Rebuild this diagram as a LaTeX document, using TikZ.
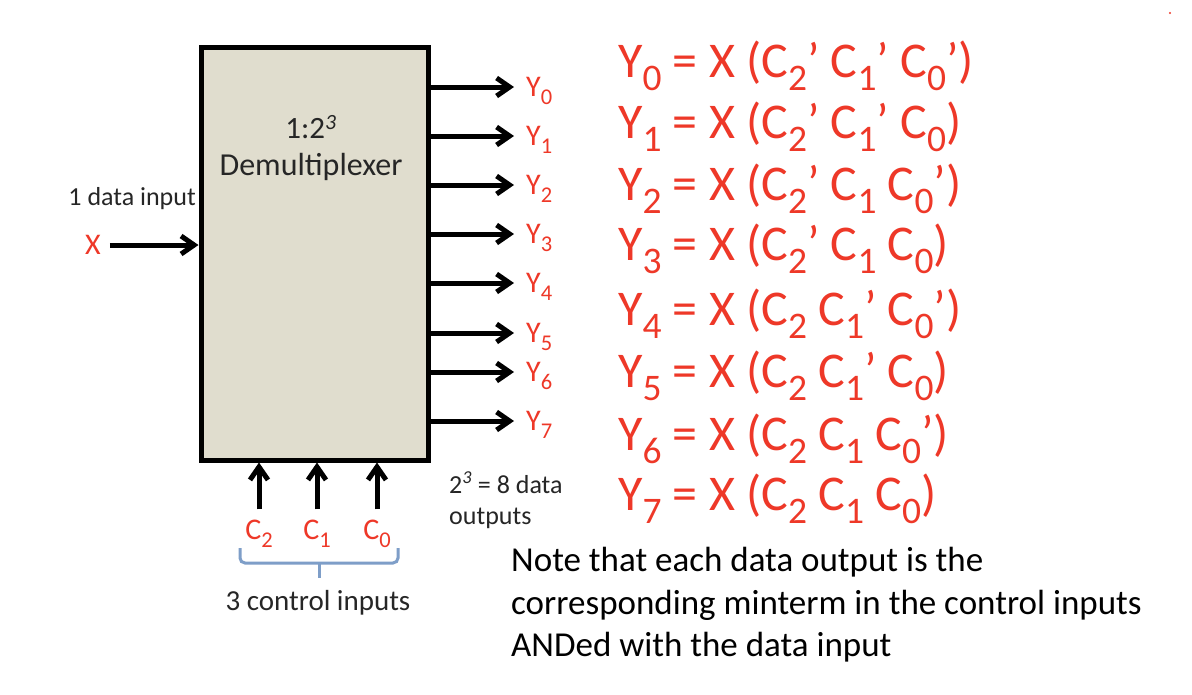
\documentclass[tikz,border=0pt]{standalone}
\usepackage{fontspec}
\setmainfont{Carlito}
\usetikzlibrary{positioning}
\usetikzlibrary{arrows.meta}
\usepackage{xcolor}
\definecolor{sigred}{RGB}{238,56,40}
\definecolor{boxgray}{RGB}{224,221,206}
\definecolor{braceblue}{RGB}{126,158,200}
\newcommand{\dn}[1]{\raisebox{-0.27em}{\scalebox{0.75}{#1}}}
\newcommand{\fs}[1]{\fontsize{#1}{#1}\selectfont}

\begin{document}
\begin{tikzpicture}[x=1pt, y=-1pt,
    sig/.style={line width=5pt, -{Straight Barb[length=13pt, width=18pt]}},
    lab/.style={text=sigred, font=\fs{30}, inner sep=0pt},
    eq/.style={text=sigred, font=\fs{50}, anchor=base west, inner sep=0pt},
    txt/.style={text=black!85, font=\fs{26}, inner sep=0pt}]
    \path[use as bounding box, fill=white] (0,0) rectangle (1192,694);

    \node[draw, line width=5pt, fill=boxgray, minimum width=227pt, minimum height=413pt, inner sep=0pt] (demux) at (314.5,253.5) {};
    \node[txt, font=\fs{31}] (ratio) at (311,127) {1:2\textsuperscript{\textit{3}}};
    \node[txt, font=\fs{32}] (name) at (311,167) {Demultiplexer};

    % data input
    \node[txt, anchor=east] (din) at (196,199) {1 data input};
    \node[lab, inner xsep=9pt] (x) at (93,245) {X};
    \draw[sig] (x) -- (demux.west |- x);

    % outputs
    \foreach \yy [count=\i from 0] in {87,136,185,234,283,333,372,421} {
        \coordinate (o\i) at (428,\yy);
        \node[lab, anchor=base west, inner xsep=12pt] (y\i) at (514,\yy+9) {Y\dn{\i}};
        \draw[sig] (o\i) -- (y\i.west |- o\i);
    }
    \node[txt, anchor=base west] (cnt) at (449,493) {2\textsuperscript{\textit{3}} = 8 data};
    \node[txt, anchor=base west] (cnt2) at (449,524) {outputs};

    % control inputs
    \foreach \c/\xx in {2/259,1/317,0/377} {
        \node[lab, anchor=base, inner ysep=10pt] (c\c) at (\xx,539) {C\dn{\c}};
        \draw[sig] (c\c) -- (demux.south -| c\c);
    }
    \coordinate (bl) at (240,548);
    \coordinate (br) at (398,548);
    \coordinate (bt) at (319,578);
    \draw[braceblue, line width=3pt, rounded corners=5pt] (bl) |- (bt |- 0,563) -| (br);
    \draw[braceblue, line width=3pt] (bt |- 0,562) -- (bt);
    \node[txt, font=\fs{29}] (ctl) at (318,603) {3 control inputs};

    % minterms
    \node[eq] (eq0) at (618,77) {Y\dn{0} = X (C\dn{2}’ C\dn{1}’ C\dn{0}’)};
    \node[eq] (eq1) at (618,138) {Y\dn{1} = X (C\dn{2}’ C\dn{1}’ C\dn{0})};
    \node[eq] (eq2) at (618,200) {Y\dn{2} = X (C\dn{2}’ C\dn{1} C\dn{0}’)};
    \node[eq] (eq3) at (618,260) {Y\dn{3} = X (C\dn{2}’ C\dn{1} C\dn{0})};
    \node[eq] (eq4) at (618,325) {Y\dn{4} = X (C\dn{2} C\dn{1}’ C\dn{0}’)};
    \node[eq] (eq5) at (618,387) {Y\dn{5} = X (C\dn{2} C\dn{1}’ C\dn{0})};
    \node[eq] (eq6) at (618,450) {Y\dn{6} = X (C\dn{2} C\dn{1} C\dn{0}’)};
    \node[eq] (eq7) at (618,510) {Y\dn{7} = X (C\dn{2} C\dn{1} C\dn{0})};

    % note
    \node[txt, text=black, font=\fs{35}, anchor=base west] (note1) at (511,571) {Note that each data output is the};
    \node[txt, text=black, font=\fs{35}, anchor=base west] (note2) at (511,614) {corresponding minterm in the control inputs};
    \node[txt, text=black, font=\fs{35}, anchor=base west] (note3) at (511,656) {ANDed with the data input};

    \fill[sigred] (1170,13) circle (1.2);
\end{tikzpicture}
\end{document}
